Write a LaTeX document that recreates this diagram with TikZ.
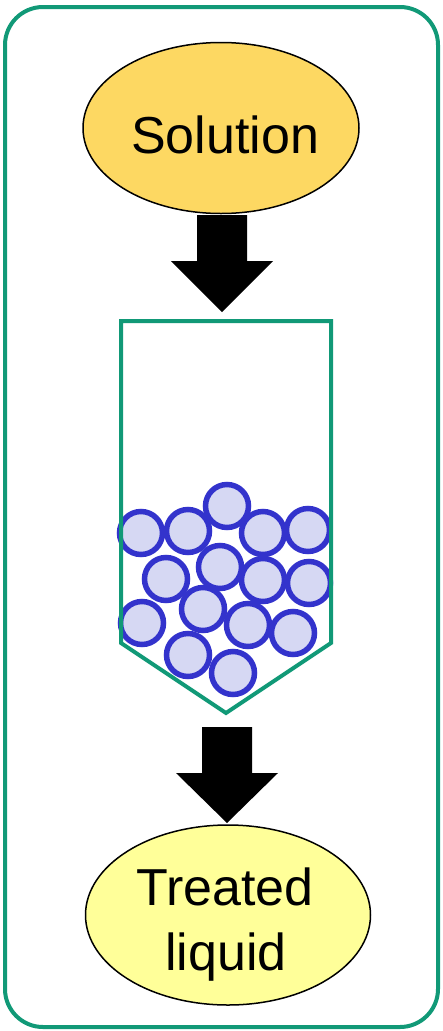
\documentclass[tikz,border=0pt]{standalone}
\usepackage{fontspec}
\setmainfont{Liberation Sans}
\usetikzlibrary{shapes.geometric}
\definecolor{frameG}{HTML}{119977}
\definecolor{solFill}{HTML}{FDD862}
\definecolor{liqFill}{HTML}{FFFF99}
\definecolor{beadLine}{HTML}{3333CC}
\definecolor{beadFill}{HTML}{D6D8F3}
\tikzset{
  blob/.style={ellipse, draw=black, line width=1.5pt, inner sep=0pt},
  lbl/.style={font=\fontsize{52}{65}\selectfont, anchor=base, inner sep=0pt},
  bead/.style={circle, draw=beadLine, fill=beadFill, line width=5.5pt, minimum size=43pt, inner sep=0pt},
  bigarrow/.style={fill=black},
  greenline/.style={draw=frameG, line width=4pt}
}
\begin{document}
\begin{tikzpicture}[x=1pt,y=-1pt]
\useasboundingbox (0,0) rectangle (443,1031);
\draw[greenline, rounded corners=38pt] (5,7) rectangle (438,1027);
\node[blob, fill=solFill, minimum width=276pt, minimum height=171pt] (sol) at (221,128) {};
\node[lbl] (solT) at (225,153) {Solution};
\node[blob, fill=liqFill, minimum width=285pt, minimum height=180pt] (liq) at (228,915) {};
\node[lbl] (liqT1) at (225,905) {Treated};
\node[lbl] (liqT2) at (226,970) {liquid};
% column
\coordinate (colTL) at (121,321);
\coordinate (colTR) at (331,321);
\coordinate (colBR) at (331,643);
\coordinate (colTip) at (226,713);
\coordinate (colBL) at (121,643);
% beads
\foreach \n/\x/\y in {1/141/533,2/188/531,3/227/506,4/263/533,5/308/530,6/166/579,7/220/567,8/263/580,9/309/583,10/142/623,11/203/609,12/248/625,13/293/633,14/188/655,15/233/673}
  \node[bead] (b\n) at (\x,\y) {};
\draw[greenline, line join=miter] (colTL) -- (colBL) -- (colTip) -- (colBR) -- (colTR) -- cycle;
% arrows
\coordinate (a1t) at (222,312);
\fill[bigarrow] (197,215) -- (247,215) -- (247,261) -- (273,261) -- (a1t) -- (171,261) -- (197,261) -- cycle;
\coordinate (a2t) at (227,823);
\fill[bigarrow] (202,727) -- (252,727) -- (252,773) -- (278,773) -- (a2t) -- (176,773) -- (202,773) -- cycle;
\end{tikzpicture}
\end{document}
